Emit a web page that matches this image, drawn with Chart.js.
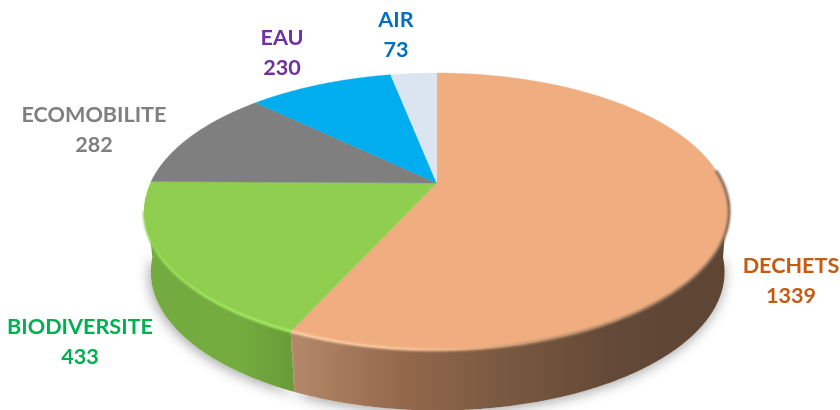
<!DOCTYPE html>
<html><head><meta charset="utf-8">
<script src="https://cdn.jsdelivr.net/npm/chart.js@4"></script>
<style>html,body{margin:0;padding:0;background:#fff}canvas{display:block}</style>
</head><body><canvas id="c" width="840" height="410"></canvas>
<script>
const categories = ['DECHETS','BIODIVERSITE','ECOMOBILITE','EAU','AIR'];
const values = [1339,433,282,230,73];
const topColors = ['#F0AE80','#8FCE4F','#7F7F7F','#00ADEE','#DBE5F2'];
const labelColors = ['#C55A11','#00B050','#7F7F7F','#7030A0','#0070C0'];
const labelAnchors = [[791,266],[80,327],[94,115],[282,38],[396,20]];

// perspective view of the flat pie
const view = {ax:436.7, ay:183, a:286.2, b:132.6, p:0.2057, depth:60.5, shrink:0.981, lineGap:30.5};
function proj(u,v){const w=1-view.p*v;return [view.ax+view.a*u/w, view.ay+view.b*v/w];}
function drop(pt){return [view.ax+(pt[0]-view.ax)*view.shrink+1, pt[1]+view.depth];}
function arcPts(el,minV){
  const pts=[];const s=el.startAngle,e=el.endAngle;const n=Math.ceil((e-s)/0.005);
  for(let i=0;i<=n;i++){const t=s+(e-s)*i/n;const u=Math.cos(t),v=Math.sin(t);
    if(minV===undefined||v>=minV)pts.push(proj(u,v));}
  return pts;
}
function trace(ctx,pts){pts.forEach((q,i)=>i?ctx.lineTo(q[0],q[1]):ctx.moveTo(q[0],q[1]));}
function grad(ctx,stops){const g=ctx.createLinearGradient(stops[0][0],0,stops[stops.length-1][0],0);
  const x0=stops[0][0],x1=stops[stops.length-1][0];stops.forEach(s=>g.addColorStop((s[0]-x0)/(x1-x0),s[1]));return g;}

const wallStops = {
  0:[[293,'#B4896A'],[400,'#94694C'],[500,'#7A5941'],[620,'#624836'],[735,'#5E4533']],
  1:[[144,'#73AB40'],[240,'#74AC40'],[297,'#679A37']]
};
const rimStops = {
  0:[[293,'#FFD3AE'],[400,'#FCC9A0'],[470,'#E8AE84'],[550,'#B08866'],[735,'#75604E']],
  1:[[144,'#8FCE4F'],[170,'#9BE258'],[297,'#A8F062']]
};
const rimFrom = {0:-0.1, 1:0.2};

const pie3d = {
  id:'pie3d',
  beforeDatasetDraw(chart,args){
    const ctx=chart.ctx, els=chart.getDatasetMeta(args.index).data;
    // soft shadow under the disc
    ctx.save();
    ctx.shadowColor='rgba(0,0,0,0.38)';ctx.shadowBlur=13;ctx.shadowOffsetX=-1;ctx.shadowOffsetY=2;
    ctx.fillStyle='#fff';ctx.beginPath();
    els.forEach(el=>trace(ctx,arcPts(el,0.1).map(drop)));
    ctx.closePath();ctx.fill();ctx.restore();
    // front walls
    els.forEach((el,i)=>{
      const rim=arcPts(el,0.1); if(rim.length<2||!wallStops[i])return;
      ctx.beginPath();trace(ctx,rim);
      rim.slice().reverse().map(drop).forEach(q=>ctx.lineTo(q[0],q[1]));
      ctx.closePath();ctx.fillStyle=grad(ctx,wallStops[i]);ctx.fill();
    });
    // top face
    els.forEach((el,i)=>{
      ctx.beginPath();ctx.moveTo(view.ax,view.ay);
      arcPts(el).forEach(q=>ctx.lineTo(q[0],q[1]));
      ctx.closePath();ctx.fillStyle=el.options.backgroundColor;ctx.fill();
      ctx.strokeStyle=el.options.backgroundColor;ctx.lineWidth=0.4;ctx.stroke();
    });
    // lit rim along the front edge
    ctx.save();ctx.filter='blur(0.8px)';ctx.lineCap='butt';
    els.forEach((el,i)=>{
      if(!rimStops[i])return;const rim=arcPts(el,rimFrom[i]);if(rim.length<2)return;
      ctx.beginPath();trace(ctx,rim);ctx.strokeStyle=grad(ctx,rimStops[i]);ctx.lineWidth=2.6;ctx.stroke();
    });
    ctx.restore();
    return false;
  },
  afterDatasetsDraw(chart){
    const ctx=chart.ctx;ctx.save();
    ctx.font='bold 21.6px Lato';ctx.textAlign='center';ctx.textBaseline='middle';
    categories.forEach((name,i)=>{
      ctx.fillStyle=labelColors[i];
      ctx.fillText(name,labelAnchors[i][0],labelAnchors[i][1]);
      ctx.fillText(String(values[i]),labelAnchors[i][0],labelAnchors[i][1]+view.lineGap);
    });
    ctx.restore();
  }
};

new Chart(document.getElementById('c'),{
  type:'pie',
  data:{labels:categories,datasets:[{data:values,backgroundColor:topColors,borderWidth:0}]},
  options:{responsive:false,animation:false,events:[],
    plugins:{legend:{display:false},tooltip:{enabled:false}}},
  plugins:[pie3d]
});
</script></body></html>
